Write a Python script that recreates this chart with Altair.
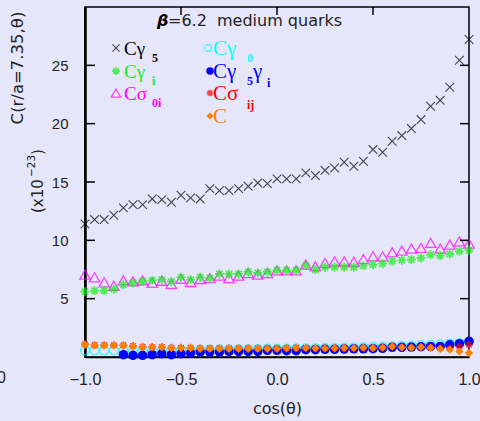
import altair as alt
import pandas as pd
import numpy as np

# ---------------- data ----------------
cos_theta = [-1.0, -0.95, -0.9, -0.85, -0.8, -0.75, -0.7, -0.65, -0.6, -0.55,
             -0.5, -0.45, -0.4, -0.35, -0.3, -0.25, -0.2, -0.15, -0.1, -0.05,
             0.0, 0.05, 0.1, 0.15, 0.2, 0.25, 0.3, 0.35, 0.4, 0.45,
             0.5, 0.55, 0.6, 0.65, 0.7, 0.75, 0.8, 0.85, 0.9, 0.95, 1.0]

c_g5 = [11.4, 11.78, 11.78, 12.15, 12.78, 13.06, 13.06, 13.55, 13.49, 13.26,
        13.86, 13.64, 13.55, 14.43, 14.26, 14.26, 14.43, 14.63, 14.92, 14.86,
        15.27, 15.27, 15.27, 15.78, 15.55, 16.0, 16.2, 16.69, 16.35, 16.78,
        17.78, 17.55, 18.49, 18.98, 19.58, 20.35, 21.49, 22.0, 23.12, 25.44, 27.21]

c_gi = [5.6, 5.69, 5.69, 5.82, 6.2, 6.35, 6.48, 6.57, 6.63, 6.48,
        6.83, 6.63, 6.83, 6.77, 7.12, 7.12, 7.12, 7.29, 7.2, 7.29,
        7.43, 7.43, 7.43, 7.85, 7.49, 7.69, 7.69, 7.69, 7.69, 7.83,
        7.92, 8.0, 8.2, 8.29, 8.35, 8.49, 8.77, 8.69, 8.83, 9.06, 9.15]

c_s0i = [7.06, 6.83, 6.4, 6.11, 6.57, 6.48, 6.57, 6.35, 6.54, 6.26,
         6.71, 6.43, 6.69, 6.77, 6.97, 6.77, 6.97, 7.2, 7.06, 7.2,
         7.43, 7.43, 7.43, 7.92, 7.77, 8.06, 8.2, 8.2, 8.15, 8.4,
         8.63, 8.63, 8.97, 9.12, 9.29, 9.35, 9.78, 9.29, 9.63, 9.92, 9.72]

c_g0 = [0.57, 0.57, 0.57, 0.57, 0.55, 0.5, 0.5, 0.52, 0.55, 0.55,
        0.58, 0.6, 0.62, 0.63, 0.65, 0.66, 0.68, 0.68, 0.7, 0.72,
        0.72, 0.72, 0.74, 0.76, 0.76, 0.78, 0.8, 0.8, 0.82, 0.84,
        0.86, 0.88, 0.92, 0.95, 0.98, 1.02, 1.06, 1.08, 1.14, 1.2, 1.3]

c_g5gi = [None, None, None, None, 0.2, 0.14, 0.14, 0.2, 0.28, 0.2,
          0.28, 0.34, 0.43, 0.43, 0.43, 0.48, 0.48, 0.48, 0.48, 0.57,
          0.57, 0.54, 0.54, 0.63, 0.63, 0.66, 0.66, 0.68, 0.7, 0.7,
          0.71, 0.74, 0.83, 0.83, 0.85, 0.88, 0.91, 0.91, 1.05, 1.14, 1.34]

c_sij = [1.1, 1.02, 1.02, 1.02, 1.0, 0.95, 0.88, 0.86, 0.86, 0.8,
         0.8, 0.8, 0.75, 0.75, 0.74, 0.74, 0.74, 0.74, 0.74, 0.74,
         0.74, 0.76, 0.79, 0.79, 0.77, 0.77, 0.77, 0.79, 0.79, 0.82,
         0.8, 0.82, 0.9, 0.85, 0.83, 0.86, 0.82, 0.75, 0.77, 0.91, 1.05]

c_c = [1.05, 0.97, 0.97, 0.97, 0.97, 0.91, 0.83, 0.83, 0.83, 0.77,
       0.77, 0.77, 0.71, 0.71, 0.71, 0.71, 0.71, 0.71, 0.71, 0.71,
       0.71, 0.74, 0.77, 0.77, 0.74, 0.74, 0.74, 0.77, 0.77, 0.8,
       0.77, 0.8, 0.9, 0.83, 0.8, 0.85, 0.8, 0.7, 0.63, 0.48, 0.34]

y_ticks = [5, 10, 15, 20, 25]
x_ticks = [-1.0, -0.5, 0.0, 0.5, 1.0]
x_inner_ticks = [-0.5, 0.0, 0.5]

W, H = 384, 350

series = {"g5": c_g5, "gi": c_gi, "s0i": c_s0i, "g0": c_g0,
          "g5gi": c_g5gi, "sij": c_sij, "c": c_c}
rows = []
for name, vals in series.items():
    for xv, yv in zip(cos_theta, vals):
        if yv is not None:
            rows.append({"cos": xv, "C": yv, "s": name})
df = pd.DataFrame(rows)

X_PATH = "M-1,-1L1,1M-1,1L1,-1"
AST_PATH = "M-1,0L1,0M0,-1L0,1M-0.7,-0.7L0.7,0.7M-0.7,0.7L0.7,-0.7"

xscale = alt.Scale(domain=[-1, 1], nice=False, zero=False)
yscale = alt.Scale(domain=[0, 30], nice=False, zero=False)

base = alt.Chart(df)


def pts(name, **mk):
    return base.transform_filter(alt.datum.s == name).mark_point(**mk).encode(
        x=alt.X("cos:Q", scale=xscale,
                axis=alt.Axis(values=x_ticks, format=".1f", title="cos(θ)")),
        y=alt.Y("C:Q", scale=yscale, axis=alt.Axis(values=y_ticks, title=None)),
    )


layers = [
    pts("g5", shape=X_PATH, size=75, color="black", filled=False, strokeWidth=1.1),
    pts("s0i", shape="triangle-up", size=110, color="#FF00FF", filled=False, strokeWidth=1.3),
    pts("gi", shape=AST_PATH, size=80, color="#11EE11", filled=False, strokeWidth=1.8),
    pts("g0", shape="circle", size=80, color="#00FFFF", filled=False, strokeWidth=1.3),
    pts("g5gi", shape="circle", size=90, color="#0000FF", filled=True, opacity=1),
    pts("sij", shape=AST_PATH, size=60, color="#FF0000", filled=False, strokeWidth=1.6),
    pts("c", shape="diamond", size=70, color="#FF8000", filled=True, opacity=1),
]

# inner ticks
ydf = pd.DataFrame({"v": y_ticks})
xdf = pd.DataFrame({"v": x_inner_ticks})
tick_l = alt.Chart(ydf).mark_rule(color="black", strokeWidth=1.5).encode(
    y=alt.Y("v:Q", scale=yscale), x=alt.value(0), x2=alt.value(10))
tick_r = alt.Chart(ydf).mark_rule(color="black", strokeWidth=1.5).encode(
    y=alt.Y("v:Q", scale=yscale), x=alt.value(W - 9), x2=alt.value(W))
tick_t = alt.Chart(xdf).mark_rule(color="black", strokeWidth=1.5).encode(
    x=alt.X("v:Q", scale=xscale), y=alt.value(0), y2=alt.value(8))
layers += [tick_l, tick_r, tick_t]

one = pd.DataFrame({"t": [""]})


def txt(text, x, y, color="black", size=18, font="Liberation Serif",
        weight="normal", align="left", baseline="alphabetic", angle=None, style="normal"):
    kw = dict(color=color, fontSize=size, font=font, fontWeight=weight,
              align=align, baseline=baseline, fontStyle=style)
    if angle is not None:
        kw["angle"] = angle
    return alt.Chart(pd.DataFrame({"t": [text]})).mark_text(**kw).encode(
        x=alt.value(x), y=alt.value(y), text="t:N")


def sym(x, y, **mk):
    return alt.Chart(one).mark_point(**mk).encode(x=alt.value(x), y=alt.value(y))


SANS = "Liberation Sans"
DSANS = "DejaVu Sans"
layers += [
    # title inside plot
    txt("β", 72, 19, size=16, font=DSANS, weight="bold", style="italic"),
    txt("=6.2\u00a0\u00a0medium quarks", 83, 19, size=16, font=DSANS, color="#222"),
    # y-axis titles
    txt("C(r/a=7.35,θ)", -67, 61, size=16.5, font=DSANS, color="#222",
        align="center", baseline="middle", angle=270),
    txt("(x10", -47, 206, size=15, font=DSANS, color="#222",
        align="left", baseline="middle", angle=270),
    txt("−23", -53, 170, size=10.5, font=DSANS, color="#222",
        align="left", baseline="middle", angle=270),
    txt(")", -47, 148, size=15, font=DSANS, color="#222",
        align="left", baseline="middle", angle=270),
    txt("0", -79, 371, size=16, font=SANS, color="#222", align="right", baseline="middle"),
    # legend, left column
    sym(31, 41, shape=X_PATH, size=50, color="black", filled=False, strokeWidth=1.1),
    txt("Cγ", 39, 48, color="black", size=19),
    txt("5", 67, 55, color="black", size=12, weight="bold"),
    sym(31, 64, shape=AST_PATH, size=60, color="#11EE11", filled=False, strokeWidth=1.8),
    txt("Cγ", 39, 71, color="#11EE11", size=19),
    txt("i", 67, 78, color="#11EE11", size=12, weight="bold"),
    sym(31, 86, shape="triangle-up", size=90, color="#FF00FF", filled=False, strokeWidth=1.2),
    txt("Cσ", 39, 93, color="#FF00FF", size=19),
    txt("0i", 67, 100, color="#FF00FF", size=12, weight="bold"),
    # legend, right column
    sym(123, 41, shape="circle", size=45, color="#00FFFF", filled=False, strokeWidth=1.2),
    txt("Cγ", 128, 48, color="#00FFFF", size=21),
    txt("0", 162, 55, color="#00FFFF", size=12, weight="bold"),
    sym(125, 64, shape="circle", size=55, color="#0000FF", filled=True, opacity=1),
    txt("Cγ", 128, 71, color="#0000FF", size=21),
    txt("5", 162, 78, color="#0000FF", size=12, weight="bold"),
    txt("γ", 168, 71, color="#0000FF", size=21),
    txt("i", 182, 80, color="#0000FF", size=12, weight="bold"),
    sym(125, 86, shape=AST_PATH, size=45, color="#FF0000", filled=False, strokeWidth=1.6),
    txt("Cσ", 128, 93, color="#FF0000", size=21),
    txt("ij", 162, 102, color="#FF0000", size=12, weight="bold"),
    sym(125, 109, shape="diamond", size=50, color="#FF8000", filled=True, opacity=1),
    txt("C", 128, 116, color="#FF8000", size=21),
]

chart = alt.layer(*layers).properties(
    width=W, height=H,
    autosize=alt.AutoSizeParams(type="none"),
    padding={"left": 85, "top": 7, "right": 11, "bottom": 64},
    background="#E6E6FA",
).configure_view(
    stroke="black", strokeWidth=1.5, fill=None
).configure_axis(
    ticks=False, grid=False, domainColor="black",
    labelFont=SANS, labelColor="#222", labelFlush=False, labelOverlap=False,
    titleFont=DSANS, titleColor="#222", titleFontWeight="normal",
).configure_axisX(
    domainWidth=1.5, labelFontSize=16, labelPadding=14, titleFontSize=16, titlePadding=13,
).configure_axisY(
    domainWidth=2.5, labelFontSize=15, labelPadding=17,
)

chart.save("out.html", embed_options={"renderer": "svg", "actions": False})
